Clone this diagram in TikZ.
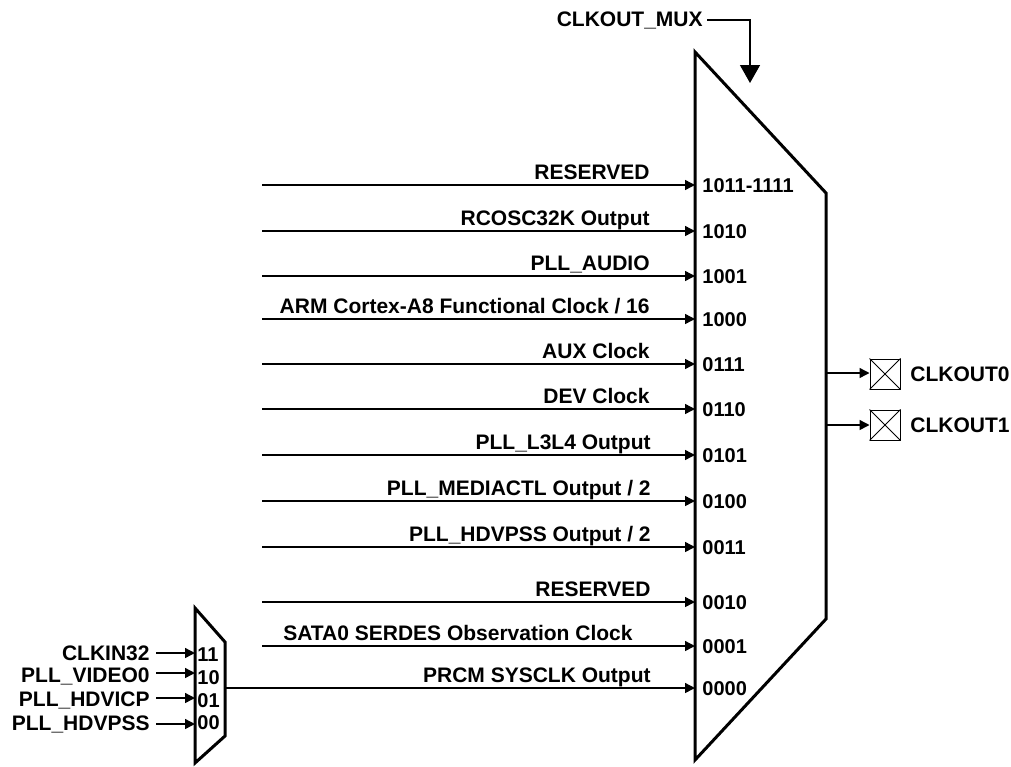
\documentclass[tikz,border=0pt]{standalone}
\usepackage{fontspec}
\setmainfont{Liberation Sans}
\usetikzlibrary{arrows.meta}
\begin{document}
\begin{tikzpicture}[x=0.5pt,y=-0.5pt,
  sig/.style={line width=0.7pt,-{Triangle[length=5pt,width=5pt]}},
  muxedge/.style={line width=1.5pt,line join=miter},
  lbl/.style={font=\bfseries\fontsize{10.5}{12}\selectfont,inner sep=0pt},
  num/.style={font=\bfseries\fontsize{10}{12}\selectfont,inner sep=0pt,anchor=west},
  xbox/.style={draw,line width=0.5pt,minimum size=15pt,inner sep=0pt},
]
\useasboundingbox (0,0) rectangle (1011,766);

% multiplexer shapes
\draw[muxedge] (695,52) -- (826,193) -- (826,619) -- (695,760) -- cycle;
\draw[muxedge] (195,608) -- (225,642) -- (225,736) -- (195,763) -- cycle;

% select input
\node[lbl,anchor=east] (mux) at (703,20) {CLKOUT\_MUX};
\coordinate (sel) at (750,83);
\draw[line width=0.7pt,-{Triangle[length=9pt,width=10pt]}] ([xshift=2pt]mux.east) -| (sel);

% main mux rows
\newcommand\murow[5]{%
  \coordinate (s#2) at (262,#1);
  \coordinate (m#2) at (695,#1);
  \draw[sig] (s#2) -- (m#2);
  \node[lbl,anchor=base east] (l#2) at (#5,#1-6) {#3};
  \node[num] (n#2) at (702,#1+1) {#4};
}
\murow{185}{a}{RESERVED}{1011-1111}{650}
\murow{231}{b}{RCOSC32K Output}{1010}{650}
\murow{276}{c}{PLL\_AUDIO}{1001}{650}
\murow{319}{d}{ARM Cortex-A8 Functional Clock / 16}{1000}{650}
\murow{364}{e}{AUX Clock}{0111}{650}
\murow{409}{f}{DEV Clock}{0110}{650}
\murow{455}{g}{PLL\_L3L4 Output}{0101}{651}
\murow{501}{h}{PLL\_MEDIACTL Output / 2}{0100}{651}
\murow{547}{i}{PLL\_HDVPSS Output / 2}{0011}{651}
\murow{602}{j}{RESERVED}{0010}{651}
\murow{646}{k}{SATA0 SERDES Observation Clock}{0001}{633}

% PRCM row fed by small mux
\coordinate (smo) at (225,688);
\coordinate (m0000) at (695,688);
\draw[sig] (smo) -- (m0000);
\node[lbl,anchor=base east] (lprcm) at (651,682) {PRCM SYSCLK Output};
\node[num] (n0000) at (702,689) {0000};

% small mux inputs
\newcommand\smrow[5]{%
  \node[lbl,anchor=base east] (t#2) at (150,#4) {#3};
  \coordinate (ss#2) at (156,#1);
  \coordinate (sm#2) at (195,#1);
  \draw[sig] (ss#2) -- (sm#2);
  \node[num] (sn#2) at (197,#5) {#2};
}
\smrow{653}{11}{CLKIN32}{660}{655}
\smrow{673}{10}{PLL\_VIDEO0}{682}{678}
\smrow{698}{01}{PLL\_HDVICP}{706}{701}
\smrow{724}{00}{PLL\_HDVPSS}{730}{723}

% outputs
\coordinate (o0) at (826,373);
\coordinate (o1) at (826,425);
\node[xbox] (b0) at (885,374) {};
\node[xbox] (b1) at (885,425) {};
\draw[line width=0.5pt] (b0.north west) -- (b0.south east) (b0.north east) -- (b0.south west);
\draw[line width=0.5pt] (b1.north west) -- (b1.south east) (b1.north east) -- (b1.south west);
\draw[sig] (o0) -- (o0 -| b0.west);
\draw[sig] (o1) -- (o1 -| b1.west);
\node[lbl,anchor=west] (c0) at (910,374) {CLKOUT0};
\node[lbl,anchor=west] (c1) at (910,425) {CLKOUT1};
\end{tikzpicture}
\end{document}
